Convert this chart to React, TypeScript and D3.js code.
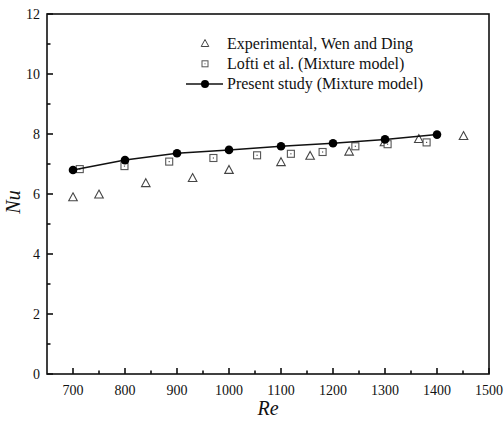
import React from "react";
import * as d3 from "d3";

const expRe = [700, 750, 840, 930, 1000, 1100, 1156, 1231, 1299, 1365, 1451];
const expNu = [5.89, 5.98, 6.36, 6.53, 6.8, 7.06, 7.27, 7.41, 7.72, 7.83, 7.93];
const lofRe = [713, 799, 885, 970, 1054, 1119, 1180, 1243, 1305, 1380];
const lofNu = [6.83, 6.93, 7.08, 7.2, 7.29, 7.34, 7.4, 7.59, 7.66, 7.72];
const preRe = [700, 800, 900, 1000, 1100, 1200, 1300, 1400];
const preNu = [6.8, 7.13, 7.36, 7.47, 7.59, 7.69, 7.82, 7.98];
const xTicks = [700, 800, 900, 1000, 1100, 1200, 1300, 1400, 1500];
const yTicks = [0, 2, 4, 6, 8, 10, 12];
const legendLabels = [
  "Experimental, Wen and Ding",
  "Lofti et al. (Mixture model)",
  "Present study (Mixture model)",
];

const W = 504, H = 426;
const L = 47, R = 489, T = 14, B = 374;
const FONT = "'Liberation Serif', 'DejaVu Serif', serif";

export default function App() {
  const x = d3.scaleLinear().domain([650, 1500]).range([L, R]);
  const y = d3.scaleLinear().domain([0, 12]).range([B, T]);
  const line = d3.line<number>().x((_, i) => x(preRe[i])).y((d) => y(d));
  const xMinor = d3.range(750, 1500, 100);
  const yMinor = d3.range(1, 12, 2);
  const tri = (cx: number, cy: number, s = 4.5) =>
    `M${cx},${cy - s}L${cx + s * 0.95},${cy + s * 0.75}L${cx - s * 0.95},${cy + s * 0.75}Z`;
  const sqSize = 7;
  const legX = 205;
  const legY = [43.5, 63.8, 84];
  return (
    <svg width={W} height={H} style={{ position: "absolute", left: 0, top: 0, background: "#fff" }}>
      <rect x={0} y={0} width={W} height={H} fill="#fff" />
      {xTicks.map((t) => (
        <line key={"xt" + t} x1={x(t)} x2={x(t)} y1={B} y2={B - 6} stroke="#000" strokeWidth={1.5} />
      ))}
      {xMinor.map((t) => (
        <line key={"xm" + t} x1={x(t)} x2={x(t)} y1={B} y2={B - 3.5} stroke="#000" strokeWidth={1.5} />
      ))}
      {yTicks.map((t) => (
        <line key={"yt" + t} x1={L} x2={L + 6} y1={y(t)} y2={y(t)} stroke="#000" strokeWidth={1.5} />
      ))}
      {yMinor.map((t) => (
        <line key={"ym" + t} x1={L} x2={L + 3.5} y1={y(t)} y2={y(t)} stroke="#000" strokeWidth={1.5} />
      ))}
      <rect x={L} y={T} width={R - L} height={B - T} fill="none" stroke="#111" strokeWidth={1.6} />
      {xTicks.map((t) => (
        <text key={"xl" + t} x={x(t)} y={394.5} textAnchor="middle" fontFamily={FONT} fontSize={14} fill="#111">
          {t}
        </text>
      ))}
      {yTicks.map((t) => (
        <text key={"yl" + t} x={40} y={y(t) + 5} textAnchor="end" fontFamily={FONT} fontSize={14} fill="#111">
          {t}
        </text>
      ))}
      <text x={x(1075)} y={415} textAnchor="middle" fontFamily={FONT} fontStyle="italic" fontSize={20} fill="#111">
        Re
      </text>
      <text
        transform={`translate(20,${(T + B) / 2 + 8}) rotate(-90)`}
        textAnchor="middle"
        fontFamily={FONT}
        fontStyle="italic"
        fontSize={20}
        fill="#111"
      >
        Nu
      </text>
      {expRe.map((r, i) => (
        <path key={"e" + i} d={tri(x(r), y(expNu[i]))} fill="#fff" stroke="#444" strokeWidth={1.1} />
      ))}
      {lofRe.map((r, i) => (
        <g key={"l" + i}>
          <rect
            x={x(r) - sqSize / 2}
            y={y(lofNu[i]) - sqSize / 2}
            width={sqSize}
            height={sqSize}
            fill="#fff"
            stroke="#555"
            strokeWidth={1.1}
          />
          <rect x={x(r) - 0.6} y={y(lofNu[i]) - 0.6} width={1.2} height={1.2} fill="#555" />
        </g>
      ))}
      <path d={line(preNu) || ""} fill="none" stroke="#111" strokeWidth={1.5} />
      {preRe.map((r, i) => (
        <circle key={"p" + i} cx={x(r)} cy={y(preNu[i])} r={4.3} fill="#000" />
      ))}
      <path d={tri(legX, legY[0], 4)} fill="#fff" stroke="#444" strokeWidth={1} />
      <rect x={legX - 3} y={legY[1] - 3} width={6} height={6} fill="#fff" stroke="#555" strokeWidth={1} />
      <rect x={legX - 0.5} y={legY[1] - 0.5} width={1} height={1} fill="#555" />
      <line x1={186} x2={223} y1={legY[2]} y2={legY[2]} stroke="#111" strokeWidth={1.5} />
      <circle cx={legX} cy={legY[2]} r={4} fill="#000" />
      {legendLabels.map((s, i) => (
        <text key={"lg" + i} x={227} y={legY[i] + 5} fontFamily={FONT} fontSize={16} fill="#111">
          {s}
        </text>
      ))}
    </svg>
  );
}
